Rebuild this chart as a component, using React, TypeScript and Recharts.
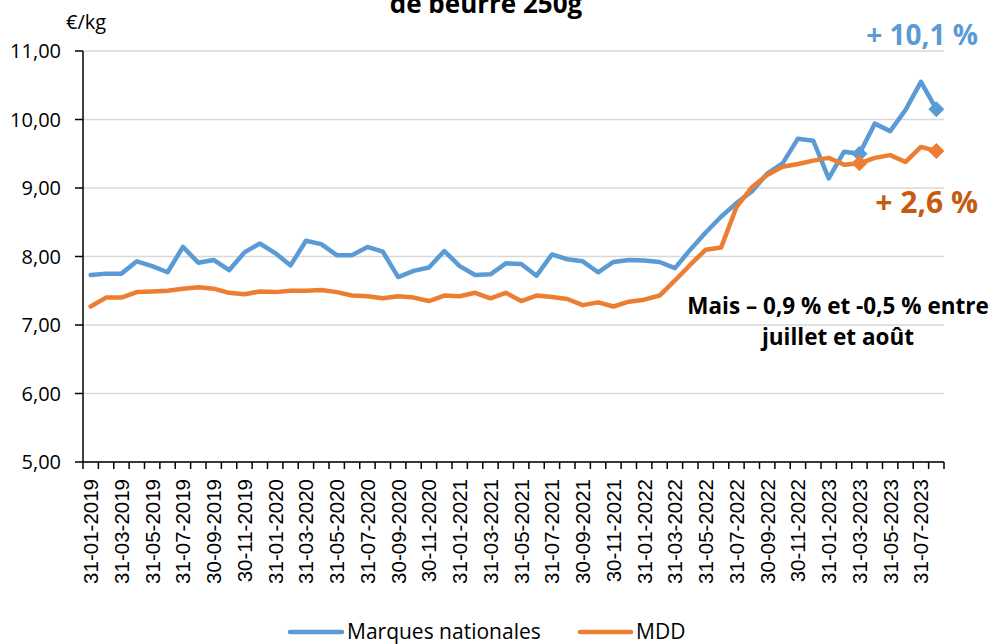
import React from 'react';
import { LineChart, Line, XAxis, YAxis, CartesianGrid } from 'recharts';

const categories = [
  '31-01-2019', '28-02-2019', '31-03-2019', '30-04-2019', '31-05-2019', '30-06-2019',
  '31-07-2019', '31-08-2019', '30-09-2019', '31-10-2019', '30-11-2019', '31-12-2019',
  '31-01-2020', '29-02-2020', '31-03-2020', '30-04-2020', '31-05-2020', '30-06-2020',
  '31-07-2020', '31-08-2020', '30-09-2020', '31-10-2020', '30-11-2020', '31-12-2020',
  '31-01-2021', '28-02-2021', '31-03-2021', '30-04-2021', '31-05-2021', '30-06-2021',
  '31-07-2021', '31-08-2021', '30-09-2021', '31-10-2021', '30-11-2021', '31-12-2021',
  '31-01-2022', '28-02-2022', '31-03-2022', '30-04-2022', '31-05-2022', '30-06-2022',
  '31-07-2022', '31-08-2022', '30-09-2022', '31-10-2022', '30-11-2022', '31-12-2022',
  '31-01-2023', '28-02-2023', '31-03-2023', '30-04-2023', '31-05-2023', '30-06-2023',
  '31-07-2023', '31-08-2023',
];

const marquesNationales = [
  7.73, 7.75, 7.75, 7.93, 7.86, 7.77, 8.14, 7.91, 7.95, 7.80, 8.06, 8.19,
  8.05, 7.87, 8.23, 8.18, 8.02, 8.02, 8.14, 8.07, 7.70, 7.79, 7.84, 8.08,
  7.86, 7.73, 7.74, 7.90, 7.89, 7.72, 8.03, 7.96, 7.93, 7.77, 7.92, 7.95,
  7.94, 7.92, 7.83, 8.10, 8.35, 8.58, 8.78, 8.95, 9.21, 9.36, 9.72, 9.69,
  9.14, 9.53, 9.50, 9.94, 9.83, 10.14, 10.55, 10.15,
];

const mdd = [
  7.27, 7.40, 7.40, 7.48, 7.49, 7.50, 7.53, 7.55, 7.53, 7.47, 7.45, 7.49,
  7.48, 7.50, 7.50, 7.51, 7.48, 7.43, 7.42, 7.39, 7.42, 7.40, 7.35, 7.43,
  7.42, 7.47, 7.39, 7.47, 7.35, 7.43, 7.41, 7.38, 7.29, 7.33, 7.27, 7.34,
  7.37, 7.43, 7.65, 7.88, 8.10, 8.13, 8.72, 9.01, 9.19, 9.31, 9.35, 9.40,
  9.44, 9.34, 9.36, 9.44, 9.48, 9.38, 9.60, 9.54,
];

const yTicks = [5, 6, 7, 8, 9, 10, 11];
const markerIndices = [50, 55];

const seriesNames = ['Marques nationales', 'MDD'];
const BLUE = '#5b9bd5';
const ORANGE = '#ed7d31';

const data = categories.map((c, i) => ({ date: c, mn: marquesNationales[i], mdd: mdd[i] }));

const W = 998;
const H = 644;
const PLOT_LEFT = 83;
const PLOT_RIGHT = 944;
const PLOT_TOP = 51;
const PLOT_BOTTOM = 462;
const BW = (PLOT_RIGHT - PLOT_LEFT) / categories.length;

const SANS = '"Open Sans", "Noto Sans", sans-serif';

function XTick(props: any) {
  const { x, y, payload } = props;
  const i = payload && payload.index !== undefined ? payload.index : props.index;
  const left = x - BW / 2;
  const ty = y + 17;
  return (
    <g>
      <line x1={left} x2={left} y1={y} y2={y + 7} stroke="#000" strokeWidth={1.5} />
      {i === categories.length - 1 && (
        <line x1={x + BW / 2} x2={x + BW / 2} y1={y} y2={y + 7} stroke="#000" strokeWidth={1.5} />
      )}
      {i % 2 === 0 && (
        <text
          x={x}
          y={ty}
          transform={`rotate(-90, ${x}, ${ty})`}
          textAnchor="end"
          dy="0.36em"
          fontSize={20.5}
          fontFamily='"Liberation Sans", Arial, sans-serif'
          fill="#000"
        >
          {payload.value}
        </text>
      )}
    </g>
  );
}

const makeDot = (color: string) => (props: any) => {
  const { cx, cy, index } = props;
  if (!markerIndices.includes(index) || cx == null || cy == null) {
    return <g key={`n-${color}-${index}`} />;
  }
  const r = 7.5;
  return (
    <polygon
      key={`d-${color}-${index}`}
      points={`${cx},${cy - r} ${cx + r},${cy} ${cx},${cy + r} ${cx - r},${cy}`}
      fill={color}
      stroke={color}
    />
  );
};

export default function App() {
  return (
    <div style={{ position: 'absolute', left: 0, top: 0, width: W, height: H, background: '#fff' }}>
      <LineChart
        width={W}
        height={H}
        data={data}
        margin={{ top: PLOT_TOP, right: W - PLOT_RIGHT, bottom: 52, left: 0 }}
      >
        <CartesianGrid vertical={false} stroke="#d9d9d9" strokeWidth={1.5} />
        <XAxis
          dataKey="date"
          scale="band"
          interval={0}
          height={H - PLOT_BOTTOM - 52}
          tickLine={false}
          tickSize={0}
          tickMargin={0}
          axisLine={{ stroke: '#000', strokeWidth: 1.5 }}
          tick={<XTick />}
        />
        <YAxis
          type="number"
          domain={[5, 11]}
          ticks={yTicks}
          interval={0}
          width={PLOT_LEFT}
          tickSize={8}
          tickMargin={14}
          axisLine={{ stroke: '#000', strokeWidth: 1.5 }}
          tickLine={{ stroke: '#000', strokeWidth: 1.5 }}
          tick={{ fontSize: 20, fontFamily: SANS, fill: '#000' }}
          tickFormatter={(v: number) => v.toFixed(2).replace('.', ',')}
        />
        <Line
          type="linear"
          dataKey="mn"
          name={seriesNames[0]}
          stroke={BLUE}
          strokeWidth={4.5}
          strokeLinejoin="round"
          strokeLinecap="round"
          dot={makeDot(BLUE)}
          activeDot={false}
          isAnimationActive={false}
        />
        <Line
          type="linear"
          dataKey="mdd"
          name={seriesNames[1]}
          stroke={ORANGE}
          strokeWidth={4.5}
          strokeLinejoin="round"
          strokeLinecap="round"
          dot={makeDot(ORANGE)}
          activeDot={false}
          isAnimationActive={false}
        />
      </LineChart>
      <svg
        width={W}
        height={H}
        style={{ position: 'absolute', left: 0, top: 0, pointerEvents: 'none' }}
      >
        <text x={486} y={13} textAnchor="middle" fontSize={26} fontWeight={700} fontFamily={SANS} fill="#000">
          de beurre 250g
        </text>
        <text x={66} y={29} fontSize={20} fontFamily={SANS} fill="#000">
          €/kg
        </text>
        <text x={978} y={45} textAnchor="end" fontSize={28} fontWeight={700} fontFamily={SANS} fill={BLUE}>
          + 10,1 %
        </text>
        <text x={978} y={213} textAnchor="end" fontSize={30} fontWeight={700} fontFamily={SANS} fill="#c55a11">
          + 2,6 %
        </text>
        <text x={838} y={314} textAnchor="middle" fontSize={22.5} fontWeight={700} fontFamily={SANS} fill="#000">
          Mais – 0,9 % et -0,5 % entre
        </text>
        <text x={838} y={345} textAnchor="middle" fontSize={22.5} fontWeight={700} fontFamily={SANS} fill="#000">
          juillet et août
        </text>
        <line x1={290} x2={342} y1={632} y2={632} stroke={BLUE} strokeWidth={4.5} strokeLinecap="round" />
        <text x={347} y={639} fontSize={21} fontFamily={SANS} fill="#000">
          {seriesNames[0]}
        </text>
        <line x1={580} x2={631} y1={632} y2={632} stroke={ORANGE} strokeWidth={4.5} strokeLinecap="round" />
        <text x={636} y={639} fontSize={21} fontFamily={SANS} fill="#000">
          {seriesNames[1]}
        </text>
      </svg>
    </div>
  );
}
